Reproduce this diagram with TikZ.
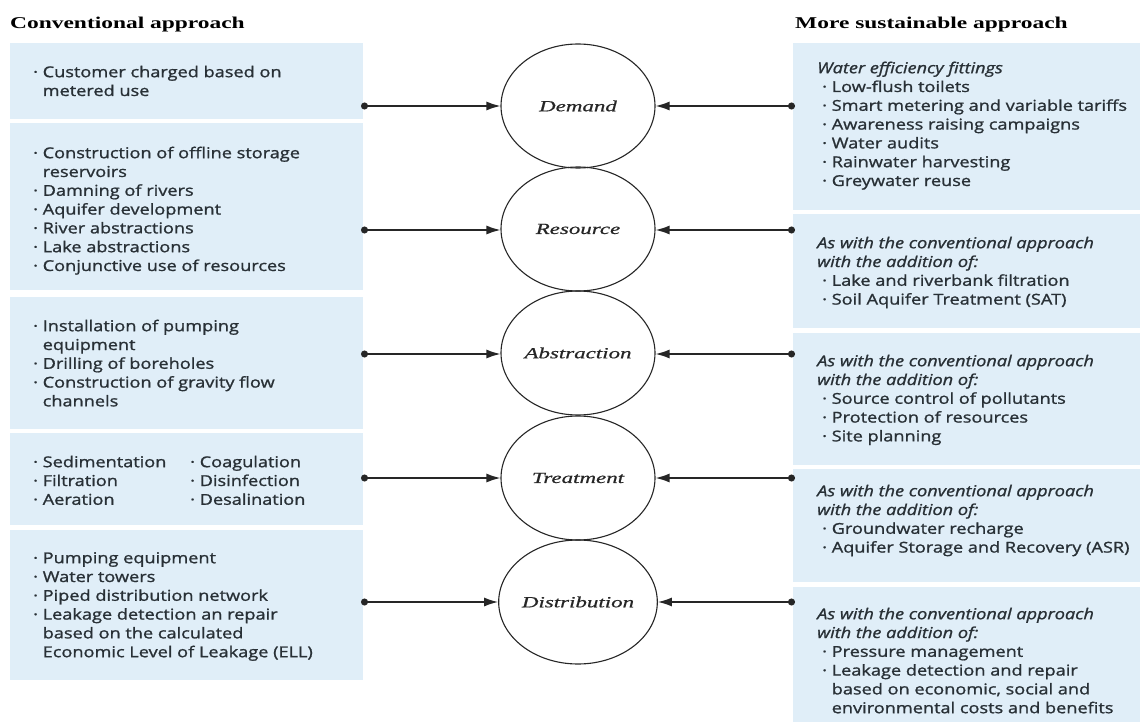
\documentclass[tikz,border=0pt]{standalone}
\usepackage{fontspec}
\usetikzlibrary{arrows.meta,shapes.geometric}
\newfontfamily\bodyfont{Open Sans}[FakeStretch=1.21,FakeBold=1.2]
\newfontfamily\headfont{Liberation Serif}[FakeStretch=1.42]
\newfontfamily\stagefont{Liberation Serif}[FakeStretch=1.48,FakeBold=0.6]
\definecolor{boxblue}{RGB}{224,238,248}
\definecolor{ink}{RGB}{40,48,54}
\newcommand\ind{\phantom{·\ }}
\newcommand\fs{\rule{0pt}{12pt}}
\newcommand\rb{\hspace*{5pt}}
\begin{document}
\begin{tikzpicture}[x=1pt,y=1pt,
  panel/.style={fill=boxblue, draw=none, anchor=north west, inner sep=0pt, outer sep=0pt},
  txt/.style={anchor=north west, inner sep=0pt, align=left, text=ink, font=\bodyfont\fontsize{15}{18.8}\selectfont},
  head/.style={anchor=base west, inner sep=0pt, text=black, font=\headfont\bfseries\fontsize{16.5}{20}\selectfont},
  stage/.style={ellipse, draw=black!85, line width=1.1pt, minimum width=154pt, minimum height=124pt, inner sep=0pt, text=black!85, font=\stagefont\itshape\fontsize{15.5}{18}\selectfont},
  conn/.style={line width=1.4pt, draw=black!85, {Circle[length=7pt]}-{Latex[length=14pt,width=9pt]}}
]
\fill[white] (0,0) rectangle (1140,-722);
\useasboundingbox (0,0) rectangle (1140,-722);

% headers
\node[head] (hl) at (10,-29) {Conventional approach};
\node[head] (hr) at (795,-29) {More sustainable approach};

% left panels
\node[panel, minimum width=353pt, minimum height=76pt]  (L1) at (10,-43) {};
\node[panel, minimum width=353pt, minimum height=167pt] (L2) at (10,-123) {};
\node[panel, minimum width=353pt, minimum height=132pt] (L3) at (10,-297) {};
\node[panel, minimum width=353pt, minimum height=92pt]  (L4) at (10,-433) {};
\node[panel, minimum width=353pt, minimum height=150pt] (L5) at (10,-530) {};

% right panels
\node[panel, minimum width=347pt, minimum height=167pt] (R1) at (793,-43) {};
\node[panel, minimum width=347pt, minimum height=114pt] (R2) at (793,-214) {};
\node[panel, minimum width=347pt, minimum height=132pt] (R3) at (793,-333) {};
\node[panel, minimum width=347pt, minimum height=113pt] (R4) at (793,-469) {};
\node[panel, minimum width=347pt, minimum height=135pt] (R5) at (793,-587) {};

% left texts
\node[txt] (tl1) at (33,-65) {\fs· Customer charged based on\\\ind metered use};
\node[txt] (tl2) at (33,-146) {\fs· Construction of offline storage\\\ind reservoirs\\· Damning of rivers\\· Aquifer development\\· River abstractions\\· Lake abstractions\\· Conjunctive use of resources};
\node[txt] (tl3) at (33,-319) {\fs· Installation of pumping\\\ind equipment\\· Drilling of boreholes\\· Construction of gravity flow\\\ind channels};
\node[txt] (tl4) at (33,-455) {\fs\makebox[157pt][l]{· Sedimentation}· Coagulation\\\makebox[157pt][l]{· Filtration}· Disinfection\\\makebox[157pt][l]{· Aeration}· Desalination};
\node[txt] (tl5) at (33,-551) {\fs· Pumping equipment\\· Water towers\\· Piped distribution network\\· Leakage detection an repair\\\ind based on the calculated\\\ind Economic Level of Leakage (ELL)};

% right texts
\node[txt] (tr1) at (817,-61) {\fs{\itshape Water efficiency fittings}\\\rb· Low-flush toilets\\\rb· Smart metering and variable tariffs\\\rb· Awareness raising campaigns\\\rb· Water audits\\\rb· Rainwater harvesting\\\rb· Greywater reuse};
\node[txt] (tr2) at (817,-236) {\fs{\itshape As with the conventional approach}\\{\itshape with the addition of:}\\\rb· Lake and riverbank filtration\\\rb· Soil Aquifer Treatment (SAT)};
\node[txt] (tr3) at (817,-354) {\fs{\itshape As with the conventional approach}\\{\itshape with the addition of:}\\\rb· Source control of pollutants\\\rb· Protection of resources\\\rb· Site planning};
\node[txt] (tr4) at (817,-484) {\fs{\itshape As with the conventional approach}\\{\itshape with the addition of:}\\\rb· Groundwater recharge\\\rb· Aquifer Storage and Recovery (ASR)};
\node[txt] (tr5) at (817,-607) {\fs{\itshape As with the conventional approach}\\{\itshape with the addition of:}\\\rb· Pressure management\\\rb· Leakage detection and repair\\\rb\ind based on economic, social and\\\rb\ind environmental costs and benefits};

% stages
\node[stage] (demand)       at (578,-106) {Demand};
\node[stage] (resource)     at (578,-229) {Resource};
\node[stage] (abstraction)  at (578,-353) {Abstraction};
\node[stage] (treatment)    at (578,-478) {Treatment};
\node[stage] (distribution) at (578,-602) {Distribution};

% connector end points
\coordinate (l1) at (361,-106);
\coordinate (l2) at (361,-230);
\coordinate (l3) at (361,-354);
\coordinate (l4) at (361,-478);
\coordinate (l5) at (361,-602);
\coordinate (r1) at (795,-106);
\coordinate (r2) at (795,-230);
\coordinate (r3) at (795,-354);
\coordinate (r4) at (795,-478);
\coordinate (r5) at (795,-602);

\draw[conn] (l1) -- (demand.west |- l1);
\draw[conn] (l2) -- (resource.west |- l2);
\draw[conn] (l3) -- (abstraction.west |- l3);
\draw[conn] (l4) -- (treatment.west |- l4);
\draw[conn] (l5) -- (distribution.west |- l5);
\draw[conn] (r1) -- (demand.east |- r1);
\draw[conn] (r2) -- (resource.east |- r2);
\draw[conn] (r3) -- (abstraction.east |- r3);
\draw[conn] (r4) -- (treatment.east |- r4);
\draw[conn] (r5) -- (distribution.east |- r5);
\end{tikzpicture}
\end{document}
